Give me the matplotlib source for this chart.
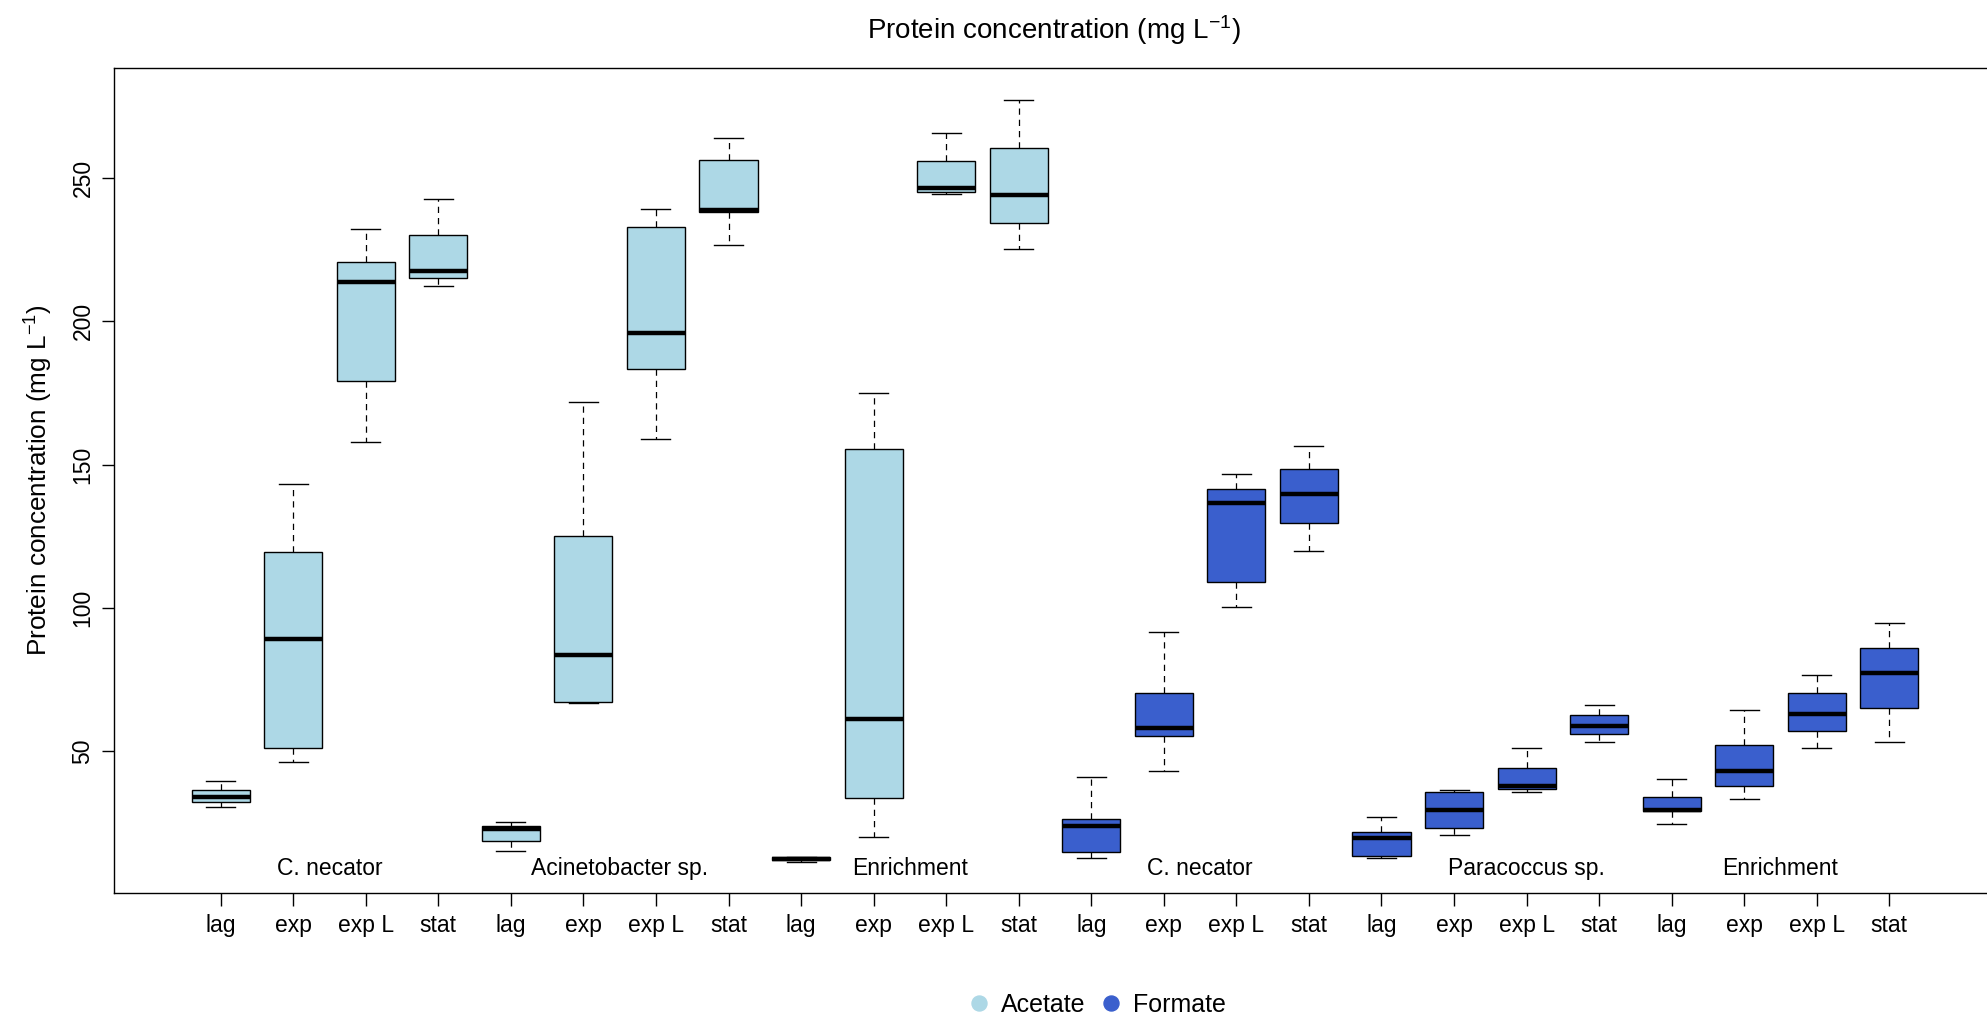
import numpy as np
import matplotlib
matplotlib.use("Agg")
import matplotlib.pyplot as plt
from matplotlib.lines import Line2D

plt.rcParams['font.family'] = ['Liberation Sans', 'DejaVu Sans']
plt.rcParams['mathtext.default'] = 'regular'

# box stats: 24 boxes, 6 groups of 4 phases
phases = ["lag", "exp", "exp L", "stat"]
groups = ["C. necator", "Acinetobacter sp.", "Enrichment",
          "C. necator", "Paracoccus sp.", "Enrichment"]
group_label_x = [2.5, 6.5, 10.5, 14.5, 19.0, 22.5]
substrate = ["Acetate"] * 3 + ["Formate"] * 3

whisker_low = [30.5, 46.3, 157.8, 212.4,
               15.1, 66.8, 159.0, 226.6,
               11.4, 20.1, 244.3, 225.2,
               12.9, 43.3, 100.5, 120.0,
               12.9, 20.8, 36.0, 53.3,
               24.8, 33.4, 51.1, 53.3]
q1 = [32.3, 51.1, 179.3, 215.1,
      18.9, 67.1, 183.5, 238.0,
      12.2, 33.8, 245.3, 234.5,
      14.8, 55.5, 109.0, 129.7,
      13.6, 23.3, 36.8, 56.2,
      29.3, 37.9, 57.1, 65.3]
median = [34.2, 89.3, 213.8, 217.7,
          23.0, 83.6, 195.8, 239.0,
          12.6, 61.2, 246.5, 244.0,
          24.1, 58.2, 136.8, 139.9,
          19.7, 29.7, 37.9, 58.9,
          29.7, 43.2, 63.0, 77.4]
q3 = [36.7, 119.6, 220.6, 230.0,
      24.1, 125.2, 233.0, 256.3,
      13.0, 155.5, 255.9, 260.5,
      26.3, 70.3, 141.6, 148.5,
      21.8, 36.0, 44.2, 62.6,
      34.1, 52.2, 70.3, 85.9]
whisker_high = [39.6, 143.3, 232.3, 242.8,
                25.2, 171.9, 239.1, 264.0,
                13.1, 174.9, 265.8, 277.4,
                40.9, 91.5, 146.6, 156.7,
                27.0, 36.4, 51.1, 66.2,
                40.4, 64.5, 76.8, 94.9]

colors = {"Acetate": "#ADD8E6", "Formate": "#3A5FCD"}

fig = plt.figure(figsize=(19.87, 10.18), dpi=100)
ax = fig.add_axes([114 / 1987, 1 - 893 / 1018, (1996 - 114) / 1987, (893 - 68) / 1018])

stats = []
for i in range(len(median)):
    stats.append(dict(whislo=whisker_low[i], q1=q1[i], med=median[i],
                      q3=q3[i], whishi=whisker_high[i], fliers=[]))
positions = np.arange(1, len(median) + 1)

bp = ax.bxp(stats, positions=positions, widths=0.8, patch_artist=True,
            showfliers=False,
            boxprops=dict(edgecolor='black', linewidth=1.0),
            medianprops=dict(color='black', linewidth=3.2, solid_capstyle='butt'),
            whiskerprops=dict(color='black', linewidth=0.9, linestyle=(0, (5, 4))),
            capprops=dict(color='black', linewidth=1.0),
            capwidths=0.4)
for i, patch in enumerate(bp['boxes']):
    patch.set_facecolor(colors[substrate[i // 4]])

# group labels under the boxes
for name, gx in zip(groups, group_label_x):
    ax.text(gx, 9.3, name, ha='center', va='center', fontsize=16.5)

ax.set_xlim(-0.47, 25.47)
ax.set_ylim(0.6, 288.4)
ax.set_xticks(positions)
ax.set_xticklabels(phases * len(groups), fontsize=16.5)
ax.set_yticks([50, 100, 150, 200, 250])
ax.set_yticklabels(["50", "100", "150", "200", "250"], rotation=90,
                   va='center', fontsize=16.5)
ax.tick_params(axis='both', length=9, width=1.0)
ax.tick_params(axis='x', pad=6)
ax.tick_params(axis='y', pad=5)
for s in ax.spines.values():
    s.set_linewidth(1.0)

ax.set_ylabel('Protein concentration (mg L$^{-1}$)', fontsize=18.8, labelpad=12)
fig.text(1054 / 1987, 1 - 30 / 1018, 'Protein concentration (mg L$^{-1}$)',
         ha='center', va='center', fontsize=20)

handles = [Line2D([], [], marker='o', linestyle='none', markersize=10.8,
                  markerfacecolor=colors[k], markeredgecolor=colors[k], label=k)
           for k in ["Acetate", "Formate"]]
fig.legend(handles=handles, loc='center', ncol=2, frameon=False,
           bbox_to_anchor=(1096 / 1987, 1 - 1005 / 1018), fontsize=18,
           handletextpad=0.4, columnspacing=0.5, handlelength=1.0)

fig.savefig("out.png", dpi=100)
